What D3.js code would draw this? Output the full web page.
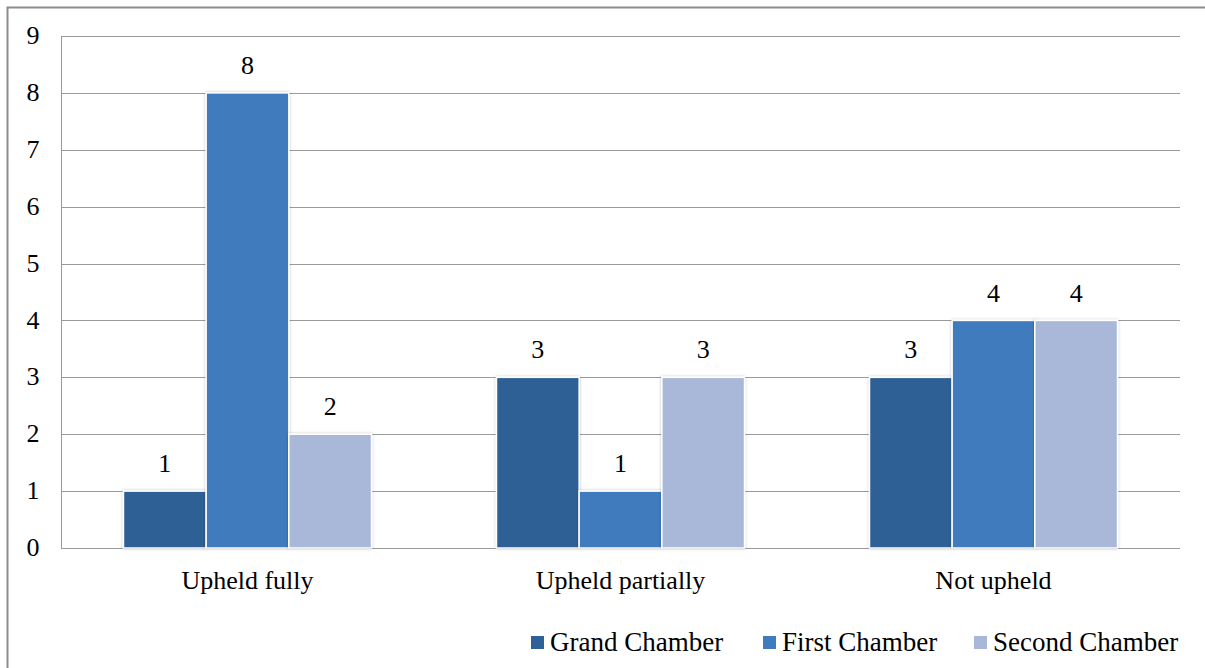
<!DOCTYPE html>
<html>
<head>
<meta charset="utf-8">
<script src="https://cdn.jsdelivr.net/npm/d3@7"></script>
<style>
  html, body { margin: 0; padding: 0; background: #fff; }
  svg { display: block; font-family: "Liberation Serif", "Times New Roman", serif; }
</style>
</head>
<body>
<svg id="chart" width="1205" height="668"></svg>
<script>
// Outcomes per category, one array per chamber
const categories = ["Upheld fully", "Upheld partially", "Not upheld"];
const seriesNames = ["Grand Chamber", "First Chamber", "Second Chamber"];
const grandChamber = [1, 3, 3];
const firstChamber = [8, 1, 4];
const secondChamber = [2, 3, 4];
const yTicks = [0, 1, 2, 3, 4, 5, 6, 7, 8, 9];
const colors = ["#2f6096", "#407bbd", "#a9b8d8"];

const seriesValues = [grandChamber, firstChamber, secondChamber];

const svg = d3.select("#chart");
const margin = { left: 61, right: 25, top: 36, bottom: 120 };
const W = 1205, H = 668;

// Outer frame (extends past the right and bottom edges)
svg.append("rect")
  .attr("x", 7.5).attr("y", 7.5)
  .attr("width", W + 10).attr("height", H + 10)
  .attr("fill", "none").attr("stroke", "#8c8c8c").attr("stroke-width", 2);

const x0 = d3.scaleBand()
  .domain(categories)
  .range([margin.left, W - margin.right])
  .paddingInner(0.335).paddingOuter(0.1675);

const x1 = d3.scaleBand()
  .domain(seriesNames)
  .range([0, x0.bandwidth()])
  .padding(0);

const y = d3.scaleLinear()
  .domain([0, 9])
  .range([H - margin.bottom, margin.top]);

// Gridlines
svg.append("g")
  .selectAll("line")
  .data(yTicks)
  .join("line")
  .attr("x1", margin.left).attr("x2", W - margin.right)
  .attr("y1", d => Math.round(y(d)) + 0.5).attr("y2", d => Math.round(y(d)) + 0.5)
  .attr("stroke", "#9a9a9a").attr("stroke-width", 1);

// Left edge of the plot area
svg.append("line")
  .attr("x1", margin.left + 0.5).attr("x2", margin.left + 0.5)
  .attr("y1", Math.round(y(9)) + 0.5).attr("y2", Math.round(y(0)) + 0.5)
  .attr("stroke", "#9a9a9a");

// Y tick labels
svg.append("g")
  .selectAll("text")
  .data(yTicks)
  .join("text")
  .attr("x", 33).attr("y", d => y(d) - 1)
  .attr("dy", "0.35em")
  .attr("text-anchor", "middle")
  .attr("font-size", 26)
  .attr("fill", "#000")
  .text(d => d);

// Soft shadow behind bars
const defs = svg.append("defs");
const f = defs.append("filter").attr("id", "shadow")
  .attr("x", "-10%").attr("y", "-10%").attr("width", "120%").attr("height", "120%");
f.append("feDropShadow").attr("dx", 0).attr("dy", 0).attr("stdDeviation", 1.5)
  .attr("flood-color", "#000").attr("flood-opacity", 0.25);

// Bars
const groups = svg.append("g")
  .selectAll("g")
  .data(categories)
  .join("g")
  .attr("transform", d => `translate(${x0(d)},0)`);

groups.selectAll("rect")
  .data((c, i) => seriesNames.map((s, j) => ({ s, j, v: seriesValues[j][i] })))
  .join("rect")
  .attr("x", d => x1(d.s))
  .attr("y", d => y(d.v))
  .attr("width", x1.bandwidth())
  .attr("height", d => y(0) - y(d.v))
  .attr("fill", d => colors[d.j])
  .attr("stroke", "#fff").attr("stroke-width", 1.5)
  .attr("filter", "url(#shadow)");

// Value labels
groups.selectAll("text")
  .data((c, i) => seriesNames.map((s, j) => ({ s, j, v: seriesValues[j][i] })))
  .join("text")
  .attr("x", d => x1(d.s) + x1.bandwidth() / 2)
  .attr("y", d => y(d.v) - 28)
  .attr("dy", "0.35em")
  .attr("text-anchor", "middle")
  .attr("font-size", 26)
  .attr("fill", "#000")
  .text(d => d.v);

// Category labels
svg.append("g")
  .selectAll("text")
  .data(categories)
  .join("text")
  .attr("x", d => x0(d) + x0.bandwidth() / 2)
  .attr("y", 580)
  .attr("dy", "0.35em")
  .attr("text-anchor", "middle")
  .attr("font-size", 26)
  .attr("fill", "#000")
  .text(d => d);

// Legend
const legendX = [531, 763, 974];
const legend = svg.append("g")
  .selectAll("g")
  .data(seriesNames)
  .join("g")
  .attr("transform", (d, i) => `translate(${legendX[i]},642)`);
legend.append("rect")
  .attr("x", 0).attr("y", -6).attr("width", 13).attr("height", 13)
  .attr("fill", (d, i) => colors[i]);
legend.append("text")
  .attr("x", 19).attr("y", 0).attr("dy", "0.35em")
  .attr("font-size", 27)
  .attr("fill", "#000")
  .text(d => d);
</script>
</body>
</html>
